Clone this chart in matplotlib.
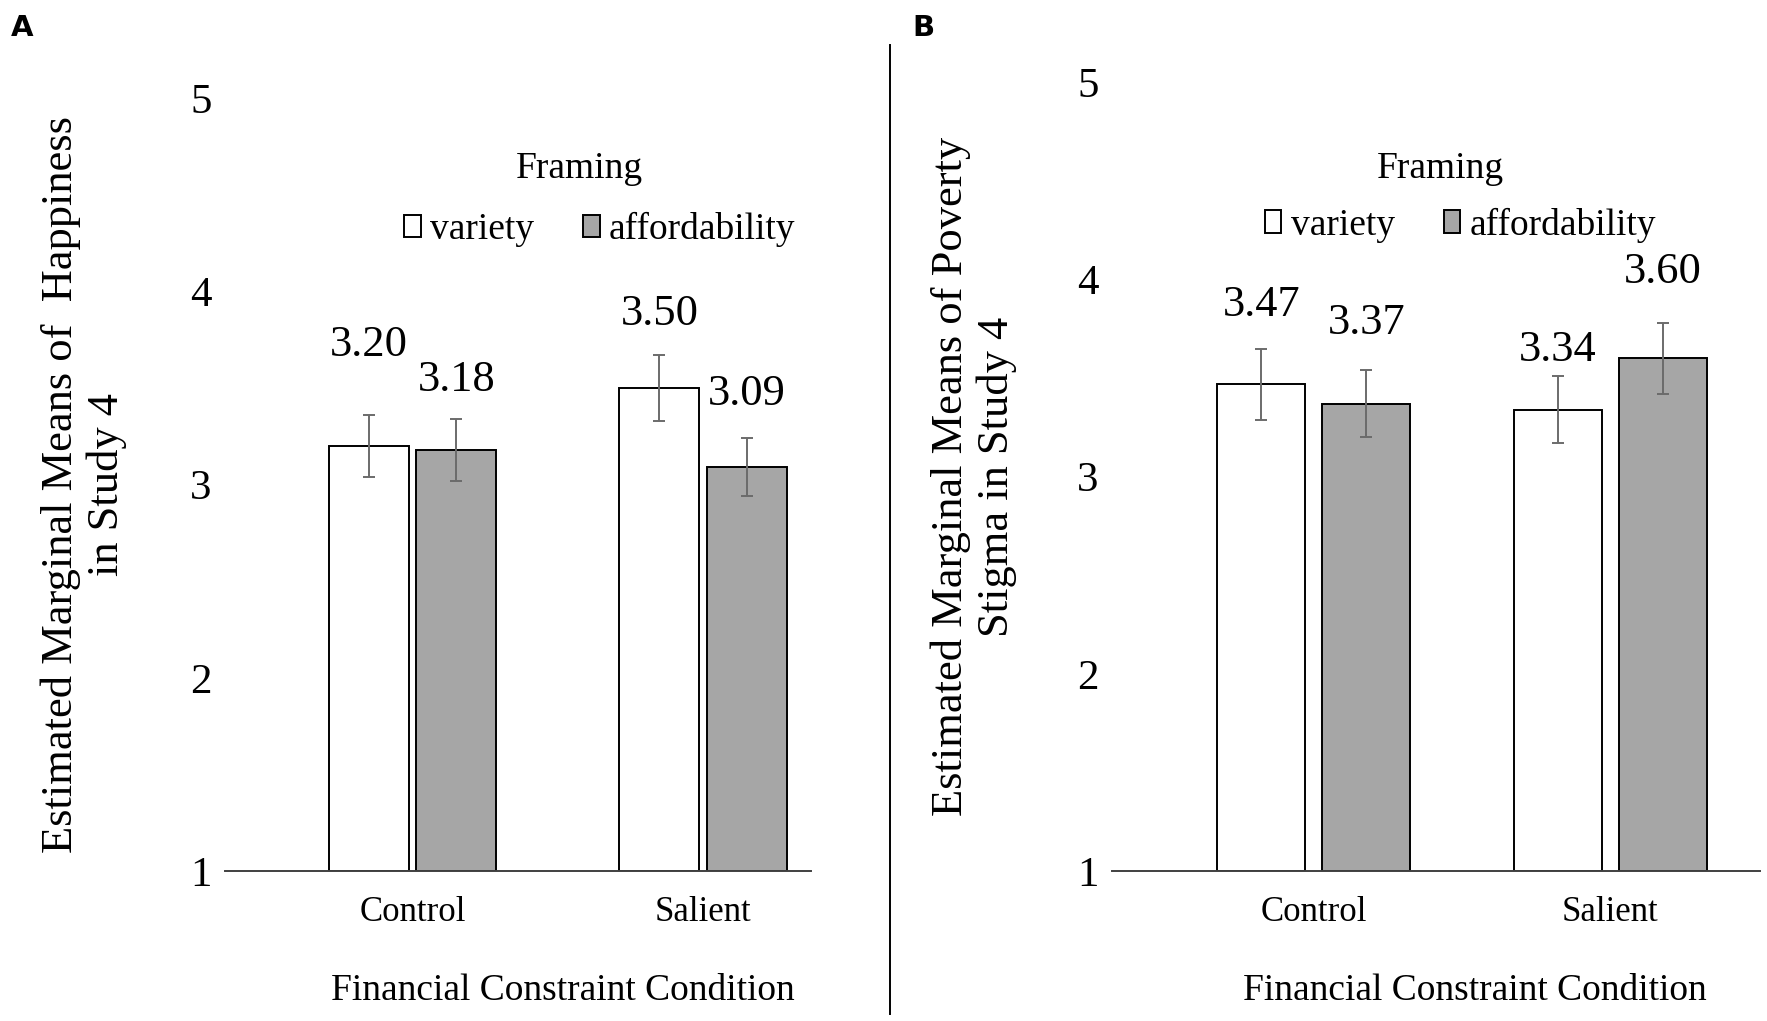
import matplotlib.pyplot as plt
import numpy as np

plt.rcParams['font.family'] = ['Liberation Serif', 'DejaVu Serif']

categories = ['Control', 'Salient']
series_names = ['variety', 'affordability']

# panel A: happiness
happy_variety = [3.20, 3.50]
happy_afford = [3.18, 3.09]
happy_variety_err = [0.16, 0.17]
happy_afford_err = [0.16, 0.15]

# panel B: poverty stigma
stigma_variety = [3.47, 3.34]
stigma_afford = [3.37, 3.60]
stigma_variety_err = [0.18, 0.17]
stigma_afford_err = [0.17, 0.18]

yticks = [1, 2, 3, 4, 5]

WHITE = '#ffffff'
GREY = '#a6a6a6'
ERRC = '#6b6b6b'


def draw_panel(ax, v1, v2, e1, e2, width, gap, xlim, lab_off1, lab_off2,
               ylabel, ylab_x, xlab_x):
    x = np.arange(len(categories))
    off = (width + gap) / 2
    ax.bar(x - off, np.array(v1) - 1, width, bottom=1, color=WHITE,
           edgecolor='black', linewidth=1.4, label=series_names[0])
    ax.bar(x + off, np.array(v2) - 1, width, bottom=1, color=GREY,
           edgecolor='black', linewidth=1.4, label=series_names[1])
    ax.errorbar(x - off, v1, yerr=e1, fmt='none', ecolor=ERRC, elinewidth=1.4,
                capsize=4, capthick=1.4)
    ax.errorbar(x + off, v2, yerr=e2, fmt='none', ecolor=ERRC, elinewidth=1.4,
                capsize=4, capthick=1.4)
    for xi, v, o in zip(x - off, v1, lab_off1):
        ax.text(xi, v + o, f'{v:.2f}', ha='center', va='center', fontsize=32)
    for xi, v, o in zip(x + off, v2, lab_off2):
        ax.text(xi, v + o, f'{v:.2f}', ha='center', va='center', fontsize=32)

    ax.set_ylim(1, 5)
    ax.set_xlim(*xlim)
    ax.set_yticks(yticks)
    ax.set_yticklabels([str(t) for t in yticks], fontsize=31)
    ax.set_xticks(x)
    ax.set_xticklabels(categories, fontsize=25)
    ax.tick_params(axis='y', length=0, pad=10)
    ax.tick_params(axis='x', length=0, pad=18)
    for s in ['top', 'right', 'left']:
        ax.spines[s].set_visible(False)
    ax.spines['bottom'].set_color('#404040')
    ax.spines['bottom'].set_linewidth(1.4)
    ax.set_xlabel('Financial Constraint Condition', fontsize=27, labelpad=32)
    ax.xaxis.label.set_x(xlab_x)
    ax.set_ylabel(ylabel, fontsize=32, linespacing=1.15, va='center')
    ax.yaxis.set_label_coords(ylab_x, 0.5)


def add_legend(ax, cx, cy, tx, ty):
    ax.legend(ncol=2, frameon=False, fontsize=27,
              handlelength=0.45, handleheight=0.55,
              handletextpad=0.25, columnspacing=1.3,
              loc='center', bbox_to_anchor=(cx, cy),
              bbox_transform=ax.figure.transFigure)
    ax.figure.text(tx, ty, 'Framing', fontsize=27, ha='center', va='center')


fig = plt.figure(figsize=(17.67, 10.21), dpi=100)

axA = fig.add_axes([0.1276, 0.1468, 0.3316, 0.7572])
draw_panel(axA, happy_variety, happy_afford, happy_variety_err, happy_afford_err,
           0.275, 0.027, (-0.643, 1.372), [0.52, 0.38], [0.36, 0.38],
           'Estimated Marginal Means of  Happiness\nin Study 4', -0.242, 0.575)
add_legend(axA, 0.3393, 1 - 204 / 906, 514 / 1568, 1 - 150 / 906)

axB = fig.add_axes([0.6295, 0.1468, 0.3667, 0.7726])
draw_panel(axB, stigma_variety, stigma_afford, stigma_variety_err, stigma_afford_err,
           0.297, 0.057, (-0.68, 1.506), [0.40, 0.30], [0.41, 0.44],
           'Estimated Marginal Means of Poverty\nStigma in Study 4', -0.214, 0.56)
add_legend(axB, 0.8265, 1 - 200 / 906, 1278 / 1568, 1 - 150 / 906)

# panel letters and divider
fig.text(0.0064, 0.9724, 'A', fontsize=21, fontweight='bold',
         family='DejaVu Sans', ha='left', va='center')
fig.text(0.5166, 0.9724, 'B', fontsize=21, fontweight='bold',
         family='DejaVu Sans', ha='left', va='center')
fig.add_artist(plt.Line2D([0.5038, 0.5038], [0.9558, 0.0066],
                          color='black', linewidth=1.4))

fig.savefig('out.png', dpi=100)
